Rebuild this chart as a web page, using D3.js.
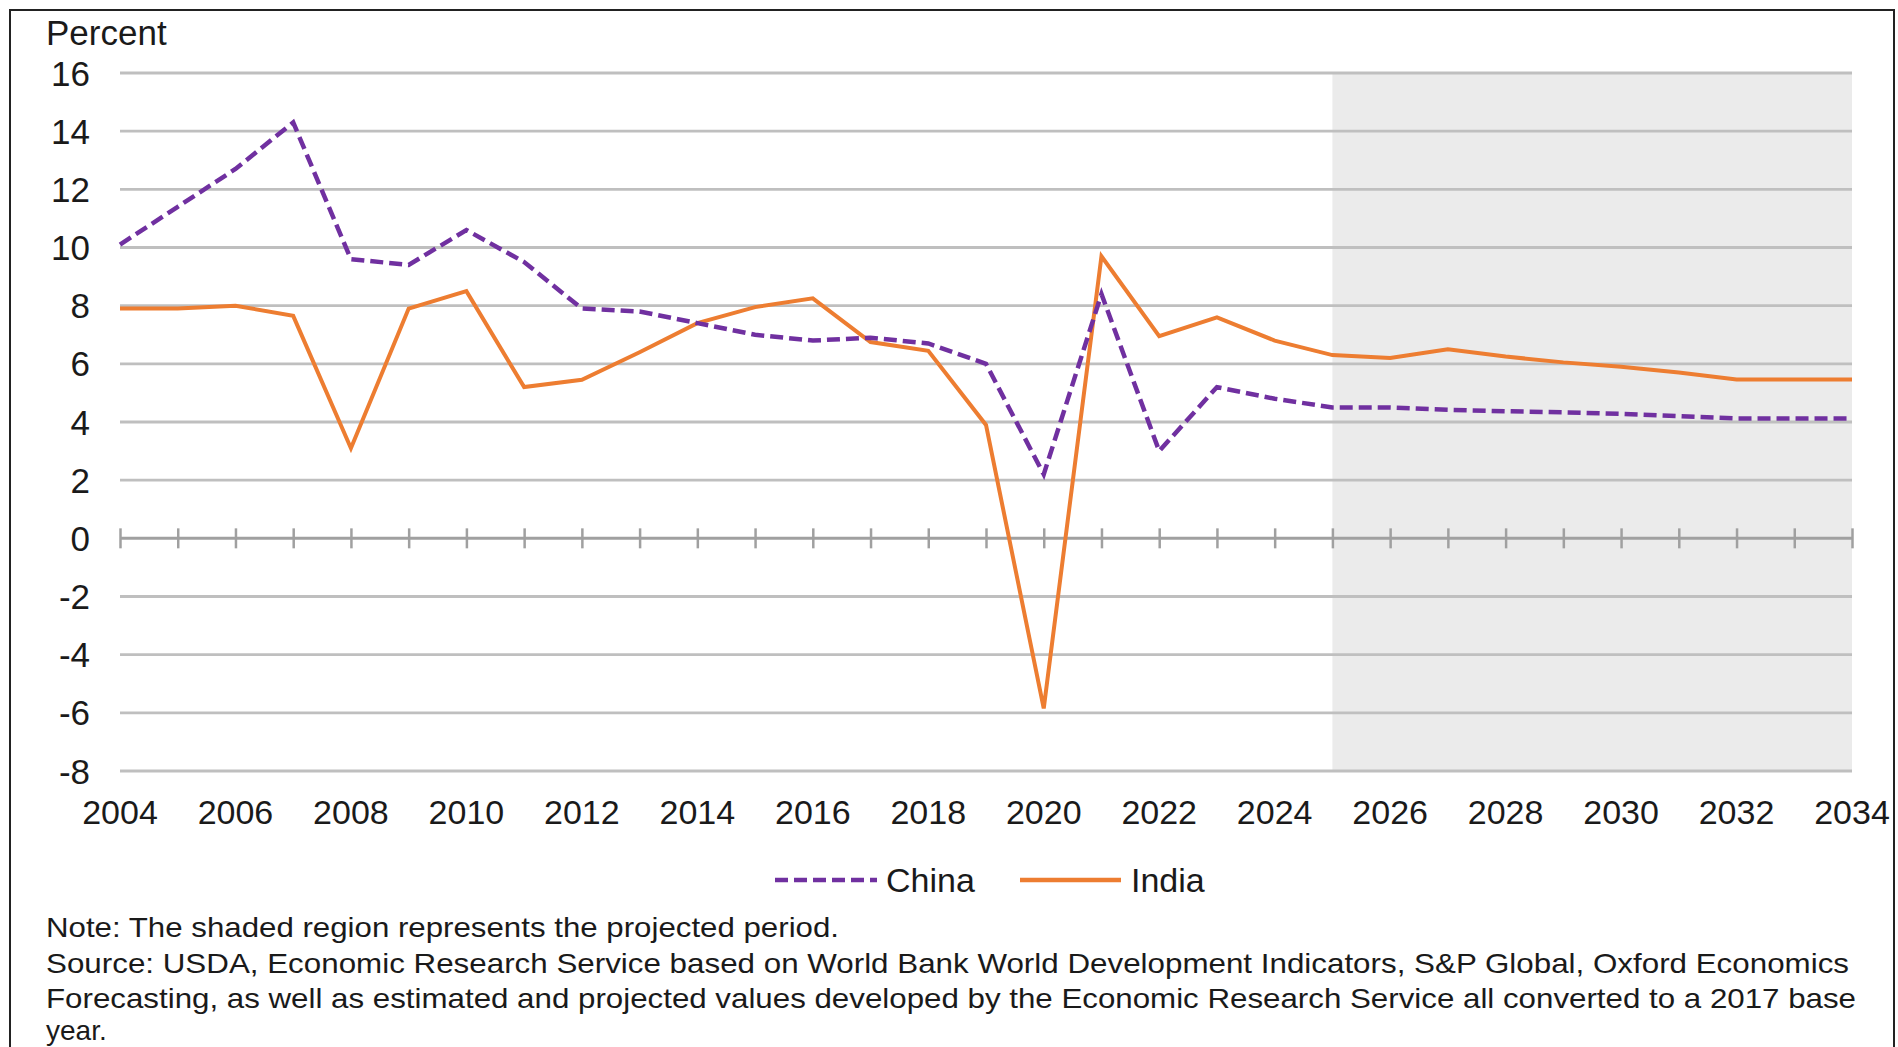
<!DOCTYPE html>
<html>
<head>
<meta charset="utf-8">
<script src="https://cdn.jsdelivr.net/npm/d3@7"></script>
<style>
  body { margin: 0; background: #fff; }
  text { font-family: "Liberation Sans", Arial, sans-serif; fill: #1a1a1a; }
</style>
</head>
<body>
<div class="canvas"></div>
<script>
/* ----------- DATA ----------- */
const years = d3.range(2004, 2035);
const china = [10.1, 11.4, 12.7, 14.3, 9.6, 9.4, 10.6, 9.5, 7.9, 7.8, 7.4, 7.0, 6.8, 6.9, 6.7, 6.0,
    2.2, 8.4, 3.0, 5.2, 4.8, 4.5, 4.5, 4.42, 4.37, 4.33, 4.28, 4.2, 4.12, 4.12, 4.12];
const india = [7.9, 7.9, 8.0, 7.65, 3.1, 7.9, 8.5, 5.2, 5.45, 6.4, 7.4, 7.95, 8.25, 6.75, 6.45, 3.9,
    -5.85, 9.7, 6.95, 7.6, 6.8, 6.3, 6.2, 6.5, 6.25, 6.05, 5.9, 5.7, 5.46, 5.46, 5.46];
const yTicks = [16, 14, 12, 10, 8, 6, 4, 2, 0, -2, -4, -6, -8];
const xTickLabels = d3.range(2004, 2035, 2);
const projStart = 2025;
const notes = [
    'Note: The shaded region represents the projected period.',
    'Source: USDA, Economic Research Service based on World Bank World Development  Indicators, S&P Global,  Oxford Economics',
    'Forecasting, as well as estimated and projected values developed by the Economic Research Service all converted to a 2017 base',
    'year.'
];

/* ----------- CONTAINER & GRAPH ----------- */
const W = 1898, H = 1047;
const svg = d3.select('.canvas')
    .append('svg')
    .attr('width', W)
    .attr('height', H);

svg.append('rect')
    .attr('x', 0).attr('y', 0).attr('width', W).attr('height', H)
    .attr('fill', '#fff');

// outer frame
svg.append('rect')
    .attr('x', 10).attr('y', 10).attr('width', 1884).attr('height', 1060)
    .attr('fill', 'none')
    .attr('stroke', '#222')
    .attr('stroke-width', 2);

const margin = { top: 73, left: 120, right: 46, bottom: 276 };
const graphWidth = W - margin.left - margin.right;
const graphHeight = H - margin.top - margin.bottom;

const graph = svg.append('g')
    .attr('transform', `translate(${margin.left},${margin.top})`);

/* ----------- SCALES ------------- */
const x = d3.scaleLinear().domain([2004, 2034]).range([0, graphWidth]);
const y = d3.scaleLinear().domain([-8, 16]).range([graphHeight, 0]);

// shaded projection period
graph.append('rect')
    .attr('x', x(projStart))
    .attr('y', y(16))
    .attr('width', x(2034) - x(projStart))
    .attr('height', y(-8) - y(16))
    .attr('fill', '#ebebeb');

// gridlines
graph.selectAll('.grid')
    .data(yTicks.filter(d => d !== 0))
    .enter()
    .append('line')
    .attr('x1', 0).attr('x2', graphWidth)
    .attr('y1', d => y(d)).attr('y2', d => y(d))
    .attr('stroke', '#bfbfbf')
    .attr('stroke-width', 2.8);

// zero axis with year ticks
const xAxis = d3.axisBottom(x)
    .tickValues(years)
    .tickSize(20)
    .tickFormat('');
const xAxisGroup = graph.append('g')
    .attr('transform', `translate(0,${y(0) - 10})`)
    .call(xAxis);
xAxisGroup.select('.domain').remove();
xAxisGroup.selectAll('line').attr('stroke', '#a0a0a0').attr('stroke-width', 2.5);
graph.append('line')
    .attr('x1', 0).attr('x2', graphWidth)
    .attr('y1', y(0)).attr('y2', y(0))
    .attr('stroke', '#a0a0a0')
    .attr('stroke-width', 3);

// y labels
graph.selectAll('.ylab')
    .data(yTicks)
    .enter()
    .append('text')
    .attr('x', -30)
    .attr('y', d => y(d))
    .attr('dy', '0.36em')
    .attr('text-anchor', 'end')
    .attr('font-size', 35)
    .text(d => d);

// x labels
graph.selectAll('.xlab')
    .data(xTickLabels)
    .enter()
    .append('text')
    .attr('x', d => x(d))
    .attr('y', graphHeight + 53)
    .attr('text-anchor', 'middle')
    .attr('font-size', 34)
    .text(d => d);

svg.append('text')
    .attr('x', 46).attr('y', 45)
    .attr('font-size', 35)
    .text('Percent');

/* ----------- LINES ----------- */
const line = d3.line()
    .x((d, i) => x(years[i]))
    .y(d => y(d));

graph.append('path')
    .datum(india)
    .attr('d', line)
    .attr('fill', 'none')
    .attr('stroke', '#ed7d31')
    .attr('stroke-width', 4)
    .attr('stroke-linejoin', 'miter');

graph.append('path')
    .datum(china)
    .attr('d', line)
    .attr('fill', 'none')
    .attr('stroke', '#7030a0')
    .attr('stroke-width', 4.5)
    .attr('stroke-dasharray', '13,6');

/* ----------- LEGEND ----------- */
const legend = svg.append('g').attr('transform', 'translate(0,880)');
legend.append('line')
    .attr('x1', 775).attr('x2', 877).attr('y1', 0).attr('y2', 0)
    .attr('stroke', '#7030a0').attr('stroke-width', 4.5).attr('stroke-dasharray', '13,6');
legend.append('text')
    .attr('x', 886).attr('y', 12).attr('font-size', 34).text('China');
legend.append('line')
    .attr('x1', 1020).attr('x2', 1121).attr('y1', 0).attr('y2', 0)
    .attr('stroke', '#ed7d31').attr('stroke-width', 4.5);
legend.append('text')
    .attr('x', 1131).attr('y', 12).attr('font-size', 34).text('India');

/* ----------- NOTES ----------- */
const noteWidths = [793, 1803, 1810, null];
const noteY = [937, 973, 1008, 1040];
svg.selectAll('.note')
    .data(notes)
    .enter()
    .append('text')
    .attr('x', 46)
    .attr('y', (d, i) => noteY[i])
    .attr('font-size', 28)
    .attr('fill', '#333')
    .each(function (d, i) {
        if (noteWidths[i]) {
            d3.select(this)
                .attr('textLength', noteWidths[i])
                .attr('lengthAdjust', 'spacingAndGlyphs');
        }
    })
    .text(d => d);
</script>
</body>
</html>
